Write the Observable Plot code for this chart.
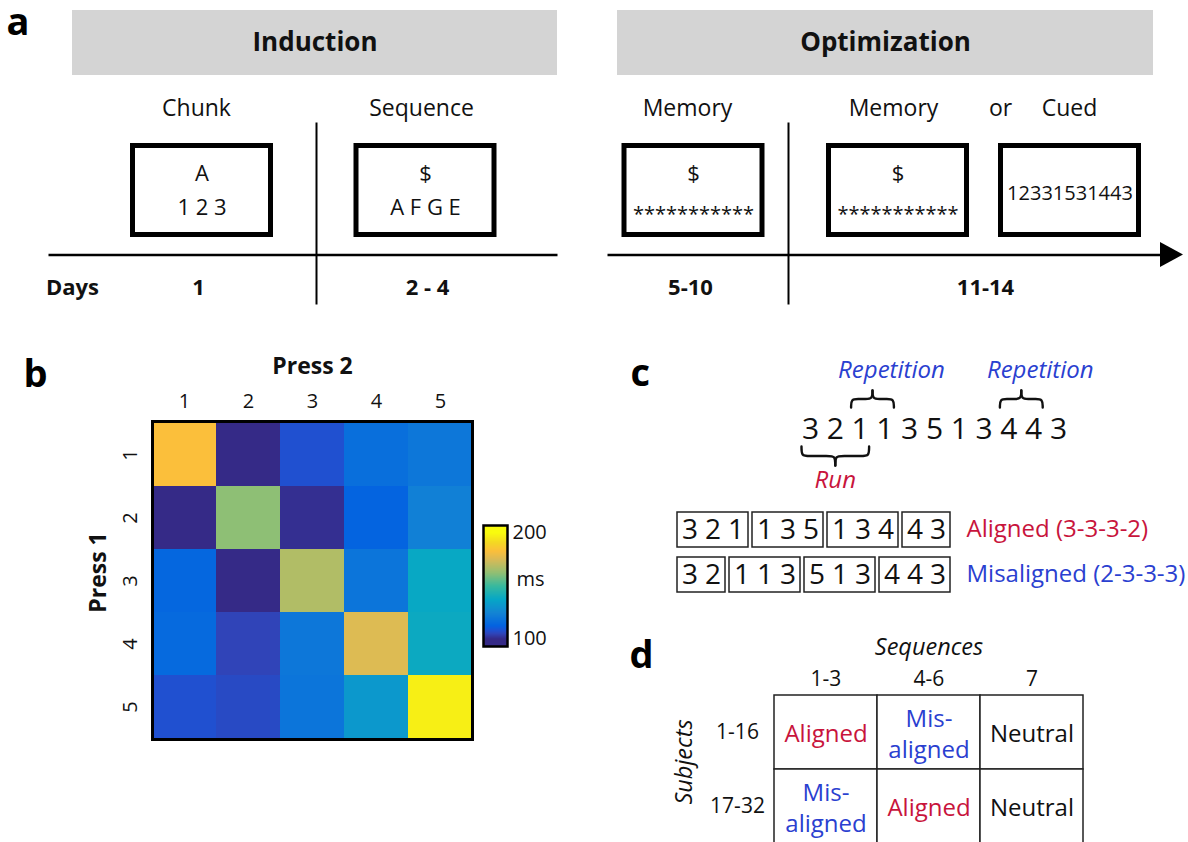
<!DOCTYPE html>
<html>
<head>
<meta charset="utf-8">
<script src="https://cdn.jsdelivr.net/npm/d3@7"></script>
<script src="https://cdn.jsdelivr.net/npm/@observablehq/plot@0.6"></script>
<style>
  html, body { margin: 0; padding: 0; background: #fff; overflow: hidden; }
  #fig { position: relative; width: 1188px; height: 842px; overflow: hidden; background: #fff; }
  #fig svg { position: absolute; max-width: none; }
</style>
</head>
<body>
<div id="fig"></div>
<script>
// ---------------- DATA ----------------
// Panel a: training protocol
const phases = ["Induction", "Optimization"];
const sessionNames = ["Chunk", "Sequence", "Memory", "Memory", "Cued"];
const sessionCue = ["A", "$", "$", "$", ""];
const sessionDisplay = ["1 2 3", "A F G E", "***********", "***********", "12331531443"];
const dayLabels = ["Days", "1", "2 - 4", "5-10", "11-14"];

// Panel b: inter-press interval matrix (ms), rows = Press 1, columns = Press 2
const press1 = [1, 2, 3, 4, 5];
const press2 = [1, 2, 3, 4, 5];
const ipiMs = [
  [183, 100, 108, 117, 120],
  [100, 162, 101, 113, 123],
  [114, 100, 168, 119, 138],
  [115, 105, 120, 176, 139],
  [108, 106.5, 119, 132, 197]
];
const msTicks = [100, 200];
const msUnit = "ms";

// Panel c: example sequence and chunk structures
const sequence = [3, 2, 1, 1, 3, 5, 1, 3, 4, 4, 3];
const repetitions = [[2, 3], [8, 9]];
const runs = [[0, 2]];
const alignedChunks = [[3, 2, 1], [1, 3, 5], [1, 3, 4], [4, 3]];
const misalignedChunks = [[3, 2], [1, 1, 3], [5, 1, 3], [4, 4, 3]];
const chunkRowLabels = ["Aligned (3-3-3-2)", "Misaligned (2-3-3-3)"];

// Panel d: design table
const seqGroups = ["1-3", "4-6", "7"];
const subjectGroups = ["1-16", "17-32"];
const design = [
  ["Aligned", "Misaligned", "Neutral"],
  ["Misaligned", "Aligned", "Neutral"]
];
const designText = {Aligned: "Aligned", Misaligned: "Mis-\naligned", Neutral: "Neutral"};

const panelLetters = ["a", "b", "c", "d"];

// ---------------- STYLE / LAYOUT ----------------
const FONT = '"Open Sans", "DejaVu Sans", sans-serif';
const RED = "#c8143c", BLUE = "#2a40d0";
const parulaStops = [100, 105, 108, 112.5, 125, 137.5, 150, 162.5, 175, 183, 191, 200];
const parulaColors = ["#352a87", "#3044b8", "#2050d0", "#0363e1", "#1485d4", "#06a7c6", "#38b99e", "#92bf73", "#d9ba56", "#fbbf3b", "#f4d823", "#f9fb0e"];
const colorScale = {type: "linear", domain: parulaStops, range: parulaColors, clamp: true, interpolate: "rgb"};

const LA = {
  phaseSpan: [[72, 557], [617, 1153]], phaseTop: 10, phaseBottom: 75, phaseTextY: 42.5,
  screenCenter: [201.5, 425, 693, 897.5, 1069.5], screenHalfW: 71.5, screenTop: 143, screenBottom: 237,
  nameX: [196, 421, 687, 893, 1069], nameY: 108.5, orX: 1000,
  cueY: 173, displayY: [207, 207, 214, 214, 193],
  timeY: 254.5, timeSegments: [[48, 557], [607, 1162]], arrowTip: 1183, arrowLen: 23, arrowHalf: 12.5,
  dividerX: [316, 788], dividerTop: 122, dividerBottom: 304,
  dayX: [72, 198, 427, 690, 985], dayY: 287.5
};
const LC = {
  seqX0: 810, seqStep: 24.8, seqY: 429,
  braceTopEnd: 407, braceTopH: 17, braceBotEnd: 446, braceBotH: -19, padL: 9, padR: 9,
  repLabelDx: 19, repLabelY: 370, runLabelY: 480,
  boxX0: 677, digitW: 23, boxPad: 2, boxGap: 4,
  rowTop: [512, 557], rowH: 35, rowLabelX: 966
};
const LL = {x: [6, 23, 630, 629], baseline: [34, 386, 385, 667]};

const fig = document.getElementById("fig");
function place(node, left, top) {
  node.style.left = left + "px";
  node.style.top = top + "px";
  fig.appendChild(node);
}

// ---------------- OVERLAY (panels a, c, letters) ----------------
const xSeq = i => LC.seqX0 + i * LC.seqStep;

function bracePoints(x1, x2, yEnd, h, id) {
  const xm = (x1 + x2) / 2, ym = yEnd - h / 2, yt = yEnd - h, q = 7;
  const halves = [
    [[x1, yEnd], [x1, ym], [x1 + q, ym], [xm - q, ym], [xm, ym], [xm, yt]],
    [[x2, yEnd], [x2, ym], [x2 - q, ym], [xm + q, ym], [xm, ym], [xm, yt]]
  ];
  return halves.flatMap((pts, k) => pts.map(([x, y]) => ({x, y, id: id + "-" + k})));
}
const braces = [
  ...repetitions.flatMap(([a, b], k) => bracePoints(xSeq(a) - LC.padL, xSeq(b) + LC.padR, LC.braceTopEnd, LC.braceTopH, "rep" + k)),
  ...runs.flatMap(([a, b], k) => bracePoints(xSeq(a) - LC.padL, xSeq(b) + LC.padR, LC.braceBotEnd, LC.braceBotH, "run" + k))
];

function chunkBoxes(chunks, row) {
  let s = LC.boxX0;
  return chunks.map(c => {
    const w = c.length * LC.digitW + LC.boxPad;
    const box = {row, x1: s, x2: s + w, digits: c};
    s += w + LC.boxGap;
    return box;
  });
}
const boxes = [...chunkBoxes(alignedChunks, 0), ...chunkBoxes(misalignedChunks, 1)];
const boxDigits = boxes.flatMap(b => b.digits.map((d, j) => ({d, row: b.row, x: b.x1 + LC.boxPad / 2 + LC.digitW * (j + 0.5)})));
const rowMid = r => LC.rowTop[r] + LC.rowH / 2;

const arrow = [
  {x: LA.arrowTip - LA.arrowLen, lo: LA.timeY - LA.arrowHalf, hi: LA.timeY + LA.arrowHalf},
  {x: LA.arrowTip, lo: LA.timeY, hi: LA.timeY}
];

const overlay = Plot.plot({
  width: 1188, height: 842, margin: 0,
  x: {domain: [0, 1188], range: [0, 1188], axis: null},
  y: {domain: [0, 842], range: [0, 842], axis: null},
  style: {fontFamily: FONT, background: "none", color: "black"},
  marks: [
    // panel a
    Plot.rect(phases, {x1: (d, i) => LA.phaseSpan[i][0], x2: (d, i) => LA.phaseSpan[i][1], y1: LA.phaseTop, y2: LA.phaseBottom, fill: "#d4d4d4"}),
    Plot.text(phases, {x: (d, i) => (LA.phaseSpan[i][0] + LA.phaseSpan[i][1]) / 2, y: LA.phaseTextY, text: d => d, fontSize: 26, fontWeight: "bold", fill: "#111"}),
    Plot.link(LA.timeSegments, {x1: d => d[0], x2: d => d[1], y1: LA.timeY, y2: LA.timeY, stroke: "black", strokeWidth: 2.5}),
    Plot.area(arrow, {x1: "x", y1: "lo", y2: "hi", fill: "black"}),
    Plot.link(LA.dividerX, {x1: d => d, x2: d => d, y1: LA.dividerTop, y2: LA.dividerBottom, stroke: "black", strokeWidth: 2}),
    Plot.rect(sessionNames, {x1: (d, i) => LA.screenCenter[i] - LA.screenHalfW, x2: (d, i) => LA.screenCenter[i] + LA.screenHalfW, y1: LA.screenTop, y2: LA.screenBottom, fill: "white", stroke: "black", strokeWidth: 5, inset: 2.5}),
    Plot.text(sessionNames, {x: (d, i) => LA.nameX[i], y: LA.nameY, text: d => d, fontSize: 23, fill: "#111"}),
    Plot.text(["or"], {x: LA.orX, y: LA.nameY, text: d => d, fontSize: 23, fill: "#111"}),
    Plot.text(sessionCue, {x: (d, i) => LA.screenCenter[i], y: LA.cueY, text: d => d, fontSize: 22, fill: "#111"}),
    Plot.text(sessionDisplay, {filter: (d, i) => i < 2, x: (d, i) => LA.screenCenter[i], y: (d, i) => LA.displayY[i], text: d => d, fontSize: 22, fill: "#111"}),
    Plot.text(sessionDisplay, {filter: (d, i) => i >= 2, x: (d, i) => LA.screenCenter[i], y: (d, i) => LA.displayY[i], text: d => d, fontSize: 20, fill: "#111"}),
    Plot.text(dayLabels, {x: (d, i) => LA.dayX[i], y: LA.dayY, text: d => d, fontSize: 22, fontWeight: "bold", fill: "#111"}),
    // panel c
    Plot.text(sequence, {x: (d, i) => xSeq(i), y: LC.seqY, text: d => String(d), fontSize: 30, fill: "#111"}),
    Plot.line(braces, {x: "x", y: "y", z: "id", curve: "basis", stroke: "#111", strokeWidth: 2.4}),
    Plot.text(repetitions, {x: ([a, b]) => (xSeq(a) + xSeq(b)) / 2 + LC.repLabelDx, y: LC.repLabelY, text: () => "Repetition", fontSize: 24, fontStyle: "italic", fill: BLUE}),
    Plot.text(runs, {x: ([a, b]) => (xSeq(a) - LC.padL + xSeq(b) + LC.padR) / 2, y: LC.runLabelY, text: () => "Run", fontSize: 24, fontStyle: "italic", fill: RED}),
    Plot.rect(boxes, {x1: "x1", x2: "x2", y1: d => LC.rowTop[d.row], y2: d => LC.rowTop[d.row] + LC.rowH, fill: "none", stroke: "#222", strokeWidth: 1.5}),
    Plot.text(boxDigits, {x: "x", y: d => rowMid(d.row), text: d => String(d.d), fontSize: 28, fill: "#111"}),
    Plot.text(chunkRowLabels, {x: LC.rowLabelX, y: (d, i) => rowMid(i) - 1, text: d => d, textAnchor: "start", fontSize: 24, fill: (d, i) => i === 0 ? RED : BLUE}),
    // panel letters
    Plot.text(panelLetters, {x: (d, i) => LL.x[i], y: (d, i) => LL.baseline[i], text: d => d, textAnchor: "start", lineAnchor: "bottom", fontSize: 38, fontWeight: "bold", fill: "black"})
  ]
});
place(overlay, 0, 0);

// ---------------- PANEL b: heatmap ----------------
const ipiCells = press1.flatMap((p1, r) => press2.map((p2, c) => ({p1, p2, ms: ipiMs[r][c]})));
const heat = Plot.plot({
  width: 420, height: 418, marginLeft: 80, marginTop: 90, marginRight: 20, marginBottom: 10,
  style: {fontFamily: FONT, background: "none", color: "#111"},
  x: {type: "band", domain: press2, padding: 0, axis: null},
  y: {type: "band", domain: press1, padding: 0, axis: null},
  color: colorScale,
  marks: [
    Plot.cell(ipiCells, {x: "p2", y: "p1", fill: "ms"}),
    Plot.frame({stroke: "black", strokeWidth: 3}),
    Plot.axisX({anchor: "top", tickSize: 0, tickPadding: 14, fontSize: 20, label: null}),
    Plot.axisY({anchor: "left", tickSize: 0, tickPadding: 16, tickRotate: -90, fontSize: 20, label: null}),
    Plot.text(["Press 2"], {frameAnchor: "top", lineAnchor: "bottom", textAnchor: "middle", dy: -48, fontSize: 23, fontWeight: "bold"}),
    Plot.text(["Press 1"], {frameAnchor: "left", lineAnchor: "bottom", textAnchor: "middle", rotate: -90, dx: -47, dy: -8, fontSize: 23, fontWeight: "bold"})
  ]
});
place(heat, 72, 331);

// colorbar
const cbar = Plot.plot({
  width: 130, height: 161, marginLeft: 20, marginTop: 20, marginBottom: 20, marginRight: 86,
  style: {fontFamily: FONT, background: "none", color: "#111"},
  x: {domain: [0, 1], axis: null},
  y: {domain: [93, 207], axis: null},
  color: colorScale,
  marks: [
    Plot.raster({x1: 0, x2: 1, y1: 93, y2: 207, fill: (x, y) => y, imageRendering: "auto"}),
    Plot.frame({stroke: "black", strokeWidth: 2.5}),
    Plot.text(msTicks, {y: d => d, frameAnchor: "right", dx: 5, textAnchor: "start", text: d => String(d), fontSize: 20}),
    Plot.text([msUnit], {frameAnchor: "right", dx: 9, dy: -6, textAnchor: "start", lineAnchor: "middle", text: d => d, fontSize: 20})
  ]
});
place(cbar, 463, 505);

// ---------------- PANEL d: design table ----------------
const designCells = design.flatMap((row, r) => row.map((type, c) => ({subj: subjectGroups[r], seq: seqGroups[c], type})));
const typeColor = {Aligned: RED, Misaligned: BLUE, Neutral: "#111"};
const table = Plot.plot({
  width: 474, height: 223, marginLeft: 143, marginTop: 75, marginRight: 20, marginBottom: 0,
  style: {fontFamily: FONT, background: "none", color: "#111"},
  x: {type: "band", domain: seqGroups, padding: 0, axis: null},
  y: {type: "band", domain: subjectGroups, padding: 0, axis: null},
  marks: [
    Plot.cell(designCells, {x: "seq", y: "subj", fill: "white", stroke: "#222", strokeWidth: 1.5}),
    ...Object.keys(typeColor).map(t =>
      Plot.text(designCells.filter(d => d.type === t), {x: "seq", y: "subj", text: d => designText[d.type], fill: typeColor[t], fontSize: 24, lineHeight: 1.3})
    ),
    Plot.text(seqGroups, {x: d => d, frameAnchor: "top", lineAnchor: "bottom", textAnchor: "middle", dy: -10, text: d => d, fontSize: 21}),
    Plot.text(subjectGroups, {y: d => d, frameAnchor: "left", textAnchor: "middle", lineAnchor: "middle", dx: -36, text: d => d, fontSize: 21}),
    Plot.text(["Sequences"], {frameAnchor: "top", textAnchor: "middle", lineAnchor: "middle", dy: -48, text: d => d, fontSize: 23.5, fontStyle: "italic"}),
    Plot.text(["Subjects"], {frameAnchor: "left", textAnchor: "middle", lineAnchor: "middle", rotate: -90, dx: -89.5, dy: -7.5, text: d => d, fontSize: 23.5, fontStyle: "italic"})
  ]
});
place(table, 630, 620);
</script>
</body>
</html>
